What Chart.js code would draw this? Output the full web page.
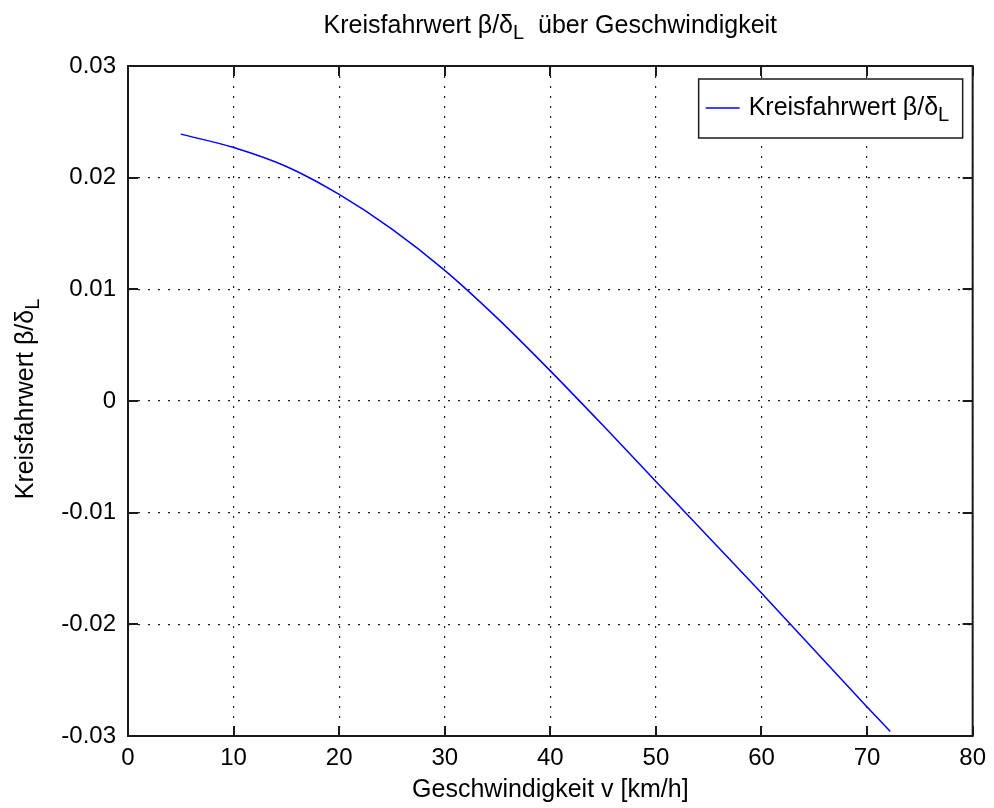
<!DOCTYPE html>
<html><head><meta charset="utf-8">
<script src="https://cdn.jsdelivr.net/npm/chart.js@4"></script>
<style>html,body{margin:0;padding:0;background:#fff;} canvas{display:block;}</style>
</head><body>
<canvas id="c" width="994" height="808"></canvas>
<script>
const speeds = [5, 10, 15, 20, 25, 30, 35, 40, 45, 50, 55, 60, 65, 70, 72.2];
const values = [0.0239, 0.0227, 0.0210, 0.0185, 0.0154, 0.0117, 0.0074, 0.0027, -0.0022, -0.0072, -0.0122, -0.0172, -0.0223, -0.0274, -0.0296];
const xTicks = [0, 10, 20, 30, 40, 50, 60, 70, 80];
const yTicks = [-0.03, -0.02, -0.01, 0, 0.01, 0.02, 0.03];
const seriesLabel = ['Kreisfahrwert β/δ', 'L', ''];
const titleParts = ['Kreisfahrwert β/δ', 'L', '  über Geschwindigkeit'];
const yTitleParts = ['Kreisfahrwert β/δ', 'L', ''];
const xTitle = 'Geschwindigkeit v [km/h]';

const FONT = '"Liberation Sans", Arial, sans-serif';
const MAIN = '25px ' + FONT;
const SUB = '20px ' + FONT;

function partsWidth(ctx, parts) {
  ctx.font = MAIN; const w0 = ctx.measureText(parts[0]).width;
  ctx.font = SUB; const w1 = ctx.measureText(parts[1]).width;
  ctx.font = MAIN; const w2 = ctx.measureText(parts[2]).width;
  return [w0, w1, w2];
}
function drawParts(ctx, parts, x, y) {
  const w = partsWidth(ctx, parts);
  ctx.textAlign = 'left'; ctx.textBaseline = 'alphabetic';
  ctx.font = MAIN; ctx.fillText(parts[0], x, y);
  ctx.font = SUB; ctx.fillText(parts[1], x + w[0], y + 6);
  ctx.font = MAIN; ctx.fillText(parts[2], x + w[0] + w[1], y);
  return w[0] + w[1] + w[2];
}

const decor = {
  id: 'decor',
  afterDraw(chart) {
    const {ctx, chartArea: a, scales: {x, y}} = chart;
    ctx.save();
    ctx.strokeStyle = '#1a1a1a';
    ctx.lineWidth = 2;
    ctx.strokeRect(a.left, a.top, a.right - a.left, a.bottom - a.top);
    ctx.beginPath();
    xTicks.forEach(v => {
      const px = Math.round(x.getPixelForValue(v));
      ctx.moveTo(px, a.bottom); ctx.lineTo(px, a.bottom - 10);
      ctx.moveTo(px, a.top); ctx.lineTo(px, a.top + 10);
    });
    yTicks.forEach(v => {
      const py = Math.round(y.getPixelForValue(v));
      ctx.moveTo(a.left, py); ctx.lineTo(a.left + 10, py);
      ctx.moveTo(a.right, py); ctx.lineTo(a.right - 10, py);
    });
    ctx.stroke();

    ctx.fillStyle = '#000';
    // title
    const cx = (a.left + a.right) / 2;
    let w = partsWidth(ctx, titleParts);
    drawParts(ctx, titleParts, cx - (w[0] + w[1] + w[2]) / 2, 33);
    // x title
    ctx.font = MAIN; ctx.textAlign = 'center'; ctx.textBaseline = 'alphabetic';
    ctx.fillText(xTitle, cx, 797);
    // y title
    w = partsWidth(ctx, yTitleParts);
    ctx.save();
    ctx.translate(33, (a.top + a.bottom) / 2 - 2);
    ctx.rotate(-Math.PI / 2);
    drawParts(ctx, yTitleParts, -(w[0] + w[1] + w[2]) / 2, 0);
    ctx.restore();
    // legend
    const bx = a.right - 274, by = a.top + 13, bw = 264, bh = 59;
    ctx.fillStyle = '#fff';
    ctx.fillRect(bx, by, bw, bh);
    ctx.lineWidth = 1.5; ctx.strokeStyle = '#1a1a1a';
    ctx.strokeRect(bx, by, bw, bh);
    ctx.strokeStyle = '#0000ff'; ctx.lineWidth = 1.5;
    ctx.beginPath(); ctx.moveTo(bx + 7, by + 29); ctx.lineTo(bx + 41, by + 29); ctx.stroke();
    ctx.fillStyle = '#000';
    drawParts(ctx, seriesLabel, bx + 50, by + 36);
    ctx.restore();
  }
};

new Chart(document.getElementById('c'), {
  type: 'line',
  data: {
    datasets: [{
      label: seriesLabel.join(''),
      data: speeds.map((v, i) => ({x: v, y: values[i]})),
      borderColor: '#0000ff',
      borderWidth: 1.5,
      pointRadius: 0,
      fill: false,
      cubicInterpolationMode: 'monotone'
    }]
  },
  options: {
    responsive: false,
    animation: false,
    devicePixelRatio: 1,
    layout: {padding: {left: 0, right: 17, top: 66, bottom: 0}},
    plugins: {legend: {display: false}, title: {display: false}, tooltip: {enabled: false}},
    scales: {
      x: {
        type: 'linear', min: 0, max: 80,
        afterBuildTicks: s => { s.ticks = xTicks.map(v => ({value: v})); },
        afterFit: s => { s.height = 72; },
        grid: {color: '#222', lineWidth: 1.2, drawTicks: false},
        border: {display: false, dash: [2, 8]},
        ticks: {font: {family: FONT, size: 24}, color: '#000', padding: 8, maxRotation: 0}
      },
      y: {
        type: 'linear', min: -0.03, max: 0.03,
        afterBuildTicks: s => { s.ticks = yTicks.map(v => ({value: v})); },
        afterFit: s => { s.width = 128; },
        grid: {color: '#222', lineWidth: 1.2, drawTicks: false},
        border: {display: false, dash: [2, 8]},
        ticks: {font: {family: FONT, size: 24}, color: '#000', padding: 12,
          callback: v => String(Number(v.toFixed(2)))}
      }
    }
  },
  plugins: [decor]
});
</script>
</body></html>
